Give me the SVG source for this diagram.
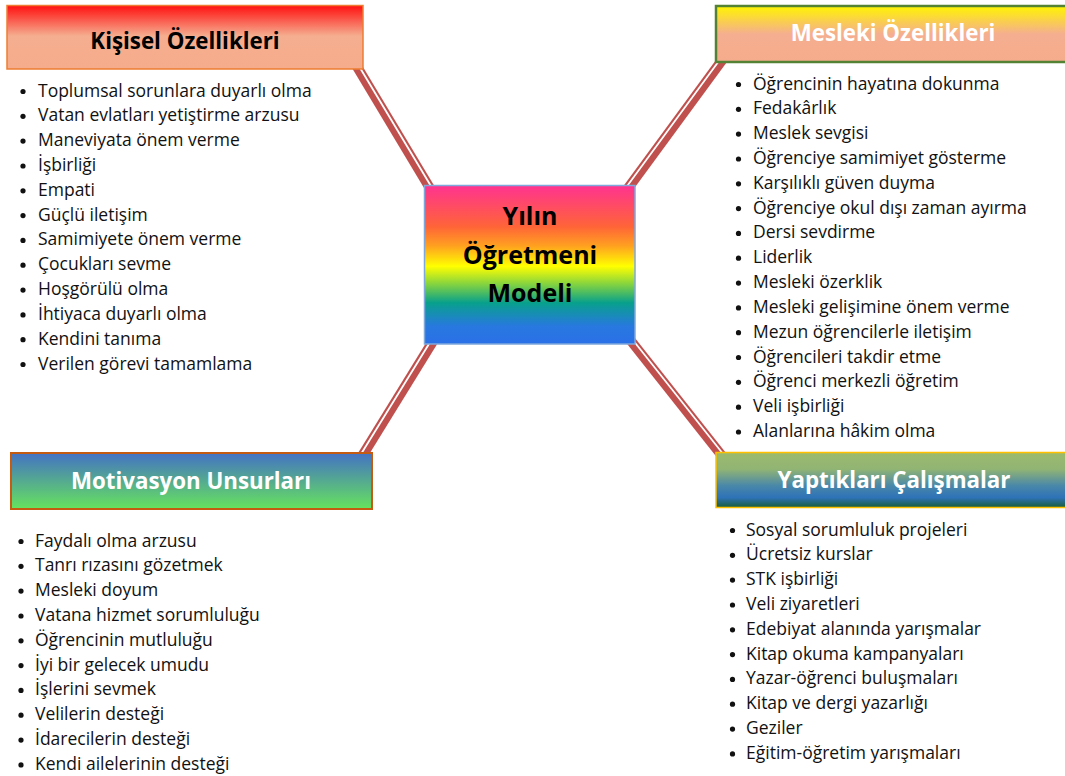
<svg xmlns="http://www.w3.org/2000/svg" width="1065" height="776" viewBox="0 0 1065 776">
<defs>
<linearGradient id="gTL" x1="0" y1="0" x2="0" y2="1">
<stop offset="0" stop-color="#FF1010"/><stop offset="0.48" stop-color="#F5AE90"/><stop offset="1" stop-color="#F5AC8C"/>
</linearGradient>
<linearGradient id="gTR" x1="0" y1="0" x2="0" y2="1">
<stop offset="0" stop-color="#FFF500"/><stop offset="0.5" stop-color="#F5AE90"/><stop offset="1" stop-color="#F5AC8C"/>
</linearGradient>
<linearGradient id="gC" x1="0" y1="0" x2="0" y2="1">
<stop offset="0" stop-color="#FF3390"/><stop offset="0.26" stop-color="#FF6438"/><stop offset="0.38" stop-color="#FFA020"/><stop offset="0.51" stop-color="#FFFF00"/><stop offset="0.63" stop-color="#7CD044"/><stop offset="0.74" stop-color="#08A08C"/><stop offset="0.89" stop-color="#2878E0"/><stop offset="1" stop-color="#2A70E8"/>
</linearGradient>
<linearGradient id="gBL" x1="0" y1="0" x2="0" y2="1">
<stop offset="0" stop-color="#4472C4"/><stop offset="0.5" stop-color="#55AA90"/><stop offset="1" stop-color="#66E35E"/>
</linearGradient>
<linearGradient id="gBR" x1="0" y1="0" x2="0" y2="1">
<stop offset="0" stop-color="#9BBB6D"/><stop offset="0.3" stop-color="#92B474"/><stop offset="0.6" stop-color="#4A88A8"/><stop offset="0.82" stop-color="#2E72B8"/><stop offset="1" stop-color="#1A5E3A"/>
</linearGradient>
<style>
.red{stroke:#C0504D;stroke-width:10;fill:none}
.gap{stroke:#FFFFFF;stroke-width:1.8;fill:none}
.hd{font-family:"Open Sans","Noto Sans",sans-serif;font-weight:bold;font-size:22.3px;text-anchor:middle}
.ct{font-family:"Open Sans","Noto Sans",sans-serif;font-weight:bold;font-size:25px;text-anchor:middle;fill:#000}
.li{font-family:"Open Sans","Noto Sans",sans-serif;font-size:17.5px;fill:#111}
.bu{fill:#111}
</style>
</defs>
<rect width="1065" height="776" fill="#FFFFFF"/>
<g id="connectors">
<line class="red" x1="347" y1="50" x2="440" y2="205"/>
<line class="gap" x1="348.7" y1="49" x2="441.7" y2="204"/>
<line class="red" x1="733.2" y1="45" x2="619.4" y2="200"/>
<line class="gap" x1="731.6" y1="43.8" x2="617.8" y2="198.8"/>
<line class="red" x1="439.9" y1="330" x2="353.5" y2="470"/>
<line class="gap" x1="438.2" y1="329" x2="351.8" y2="469"/>
<line class="red" x1="618.4" y1="325" x2="733.2" y2="470"/>
<line class="gap" x1="620" y1="323.8" x2="734.8" y2="468.8"/>
</g>
<g id="center">
<rect x="424.5" y="185.5" width="210.5" height="158.5" fill="url(#gC)" stroke="#7FA8DC" stroke-width="1.5"/>
<text class="ct" x="530" y="225">Yılın</text>
<text class="ct" x="530" y="264">Öğretmeni</text>
<text class="ct" x="530" y="302">Modeli</text>
</g>
<g id="kisisel">
<rect x="7" y="5.5" width="356" height="63.5" fill="url(#gTL)" stroke="#ED7D31" stroke-width="1.5"/>
<text class="hd" x="185" y="48.5" fill="#000">Kişisel Özellikleri</text>
<g class="bu">
<circle cx="23" cy="91.5" r="2.6"/><circle cx="23" cy="116.3" r="2.6"/><circle cx="23" cy="141.1" r="2.6"/><circle cx="23" cy="166" r="2.6"/><circle cx="23" cy="190.8" r="2.6"/><circle cx="23" cy="215.6" r="2.6"/><circle cx="23" cy="240.4" r="2.6"/><circle cx="23" cy="265.2" r="2.6"/><circle cx="23" cy="290.1" r="2.6"/><circle cx="23" cy="314.9" r="2.6"/><circle cx="23" cy="339.7" r="2.6"/><circle cx="23" cy="364.5" r="2.6"/>
</g>
<text class="li" x="38" y="96.5">Toplumsal sorunlara duyarlı olma</text>
<text class="li" x="38" y="121.3">Vatan evlatları yetiştirme arzusu</text>
<text class="li" x="38" y="146.1">Maneviyata önem verme</text>
<text class="li" x="38" y="171">İşbirliği</text>
<text class="li" x="38" y="195.8">Empati</text>
<text class="li" x="38" y="220.6">Güçlü iletişim</text>
<text class="li" x="38" y="245.4">Samimiyete önem verme</text>
<text class="li" x="38" y="270.2">Çocukları sevme</text>
<text class="li" x="38" y="295.1">Hoşgörülü olma</text>
<text class="li" x="38" y="319.9">İhtiyaca duyarlı olma</text>
<text class="li" x="38" y="344.7">Kendini tanıma</text>
<text class="li" x="38" y="369.5">Verilen görevi tamamlama</text>
</g>
<g id="mesleki">
<rect x="716" y="6" width="352" height="56" fill="url(#gTR)" stroke="#548235" stroke-width="2.5"/>
<text class="hd" x="893" y="41" fill="#FFFFFF">Mesleki Özellikleri</text>
<g class="bu">
<circle cx="738.5" cy="84.5" r="2.6"/><circle cx="738.5" cy="109.3" r="2.6"/><circle cx="738.5" cy="134.1" r="2.6"/><circle cx="738.5" cy="159" r="2.6"/><circle cx="738.5" cy="183.8" r="2.6"/><circle cx="738.5" cy="208.6" r="2.6"/><circle cx="738.5" cy="233.4" r="2.6"/><circle cx="738.5" cy="258.2" r="2.6"/><circle cx="738.5" cy="283.1" r="2.6"/><circle cx="738.5" cy="307.9" r="2.6"/><circle cx="738.5" cy="332.7" r="2.6"/><circle cx="738.5" cy="357.5" r="2.6"/><circle cx="738.5" cy="382.3" r="2.6"/><circle cx="738.5" cy="407.2" r="2.6"/><circle cx="738.5" cy="432" r="2.6"/>
</g>
<text class="li" x="753" y="89.5">Öğrencinin hayatına dokunma</text>
<text class="li" x="753" y="114.3">Fedakârlık</text>
<text class="li" x="753" y="139.1">Meslek sevgisi</text>
<text class="li" x="753" y="164">Öğrenciye samimiyet gösterme</text>
<text class="li" x="753" y="188.8">Karşılıklı güven duyma</text>
<text class="li" x="753" y="213.6">Öğrenciye okul dışı zaman ayırma</text>
<text class="li" x="753" y="238.4">Dersi sevdirme</text>
<text class="li" x="753" y="263.2">Liderlik</text>
<text class="li" x="753" y="288.1">Mesleki özerklik</text>
<text class="li" x="753" y="312.9">Mesleki gelişimine önem verme</text>
<text class="li" x="753" y="337.7">Mezun öğrencilerle iletişim</text>
<text class="li" x="753" y="362.5">Öğrencileri takdir etme</text>
<text class="li" x="753" y="387.3">Öğrenci merkezli öğretim</text>
<text class="li" x="753" y="412.2">Veli işbirliği</text>
<text class="li" x="753" y="437">Alanlarına hâkim olma</text>
</g>
<g id="motivasyon">
<rect x="11" y="453" width="361" height="56" fill="url(#gBL)" stroke="#C55A11" stroke-width="2"/>
<text class="hd" x="191" y="489" fill="#FFFFFF">Motivasyon Unsurları</text>
<g class="bu">
<circle cx="21" cy="541.5" r="2.6"/><circle cx="21" cy="566.3" r="2.6"/><circle cx="21" cy="591.1" r="2.6"/><circle cx="21" cy="616" r="2.6"/><circle cx="21" cy="640.8" r="2.6"/><circle cx="21" cy="665.6" r="2.6"/><circle cx="21" cy="690.4" r="2.6"/><circle cx="21" cy="715.2" r="2.6"/><circle cx="21" cy="740.1" r="2.6"/><circle cx="21" cy="764.9" r="2.6"/>
</g>
<text class="li" x="35" y="546.5">Faydalı olma arzusu</text>
<text class="li" x="35" y="571.3">Tanrı rızasını gözetmek</text>
<text class="li" x="35" y="596.1">Mesleki doyum</text>
<text class="li" x="35" y="621">Vatana hizmet sorumluluğu</text>
<text class="li" x="35" y="645.8">Öğrencinin mutluluğu</text>
<text class="li" x="35" y="670.6">İyi bir gelecek umudu</text>
<text class="li" x="35" y="695.4">İşlerini sevmek</text>
<text class="li" x="35" y="720.2">Velilerin desteği</text>
<text class="li" x="35" y="745.1">İdarecilerin desteği</text>
<text class="li" x="35" y="769.9">Kendi ailelerinin desteği</text>
</g>
<g id="yaptiklari">
<rect x="716" y="452.5" width="352" height="55" fill="url(#gBR)" stroke="#FFC000" stroke-width="1.5"/>
<text class="hd" x="894" y="488" fill="#FFFFFF">Yaptıkları Çalışmalar</text>
<g class="bu">
<circle cx="732.5" cy="530.5" r="2.6"/><circle cx="732.5" cy="555.3" r="2.6"/><circle cx="732.5" cy="580.1" r="2.6"/><circle cx="732.5" cy="605" r="2.6"/><circle cx="732.5" cy="629.8" r="2.6"/><circle cx="732.5" cy="654.6" r="2.6"/><circle cx="732.5" cy="679.4" r="2.6"/><circle cx="732.5" cy="704.2" r="2.6"/><circle cx="732.5" cy="729.1" r="2.6"/><circle cx="732.5" cy="753.9" r="2.6"/>
</g>
<text class="li" x="746" y="535.5">Sosyal sorumluluk projeleri</text>
<text class="li" x="746" y="560.3">Ücretsiz kurslar</text>
<text class="li" x="746" y="585.1">STK işbirliği</text>
<text class="li" x="746" y="610">Veli ziyaretleri</text>
<text class="li" x="746" y="634.8">Edebiyat alanında yarışmalar</text>
<text class="li" x="746" y="659.6">Kitap okuma kampanyaları</text>
<text class="li" x="746" y="684.4">Yazar-öğrenci buluşmaları</text>
<text class="li" x="746" y="709.2">Kitap ve dergi yazarlığı</text>
<text class="li" x="746" y="734.1">Geziler</text>
<text class="li" x="746" y="758.9">Eğitim-öğretim yarışmaları</text>
</g>
</svg>
